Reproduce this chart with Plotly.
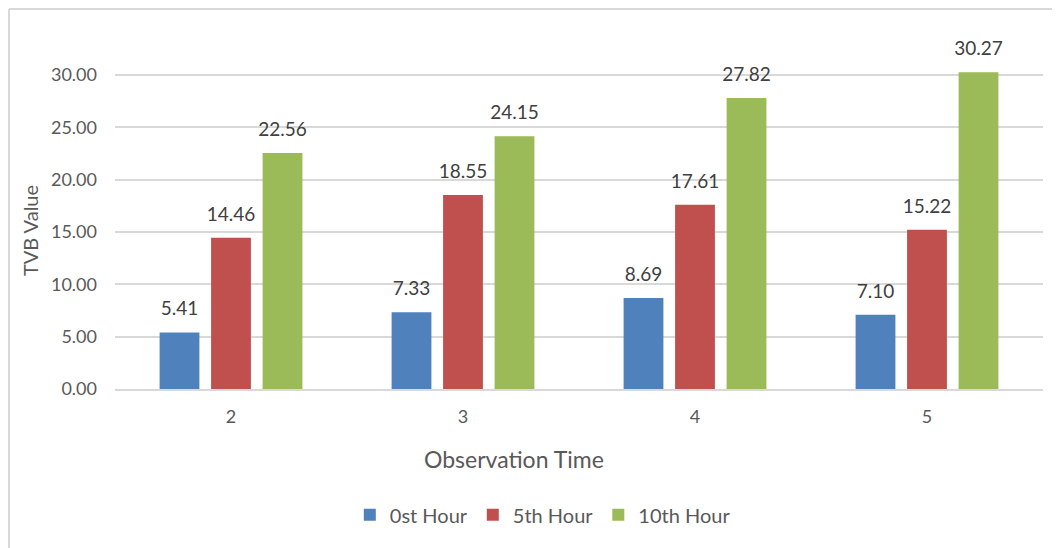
import plotly.graph_objects as go

categories = ["2", "3", "4", "5"]
series_names = ["0st Hour", "5th Hour", "10th Hour"]
hour0 = [5.41, 7.33, 8.69, 7.10]
hour5 = [14.46, 18.55, 17.61, 15.22]
hour10 = [22.56, 24.15, 27.82, 30.27]
colors = ["#4F81BD", "#C0504D", "#9BBB59"]
tick_vals = [0, 5, 10, 15, 20, 25, 30]
x_title = "Observation Time"
y_title = "TVB Value"

FONT = "Lato, 'Open Sans', sans-serif"
GREY = "#595959"
BARGAP = 0.334

fig = go.Figure()
for name, vals, col in zip(series_names, [hour0, hour5, hour10], colors):
    fig.add_trace(go.Bar(
        x=categories, y=vals, name=name, marker_color=col,
        marker_line_width=0, offsetgroup=name, hoverinfo="x+y+name",
    ))
for name, vals in zip(series_names, [hour0, hour5, hour10]):
    fig.add_trace(go.Scatter(
        x=categories, y=vals, mode="markers+text", offsetgroup=name,
        text=[f"{v:.2f}" for v in vals], textposition="top center",
        textfont=dict(size=19, color="#404040", family=FONT),
        marker=dict(size=18, opacity=0), showlegend=False, hoverinfo="skip",
        cliponaxis=False,
    ))

W, H = 1052, 540
L, R, T, B = 107, 17, 64, 159
pw = W - L - R
ph = H - T - B

fig.update_layout(
    width=W, height=H,
    margin=dict(l=L, r=R, t=T, b=B, autoexpand=False),
    plot_bgcolor="white", paper_bgcolor="white",
    barmode="group", bargap=BARGAP, bargroupgap=0.227,
    scattermode="group", scattergap=BARGAP,
    font=dict(family=FONT, color=GREY, size=14),
    xaxis=dict(
        type="category", showgrid=False, showline=True, linecolor="#d9d9d9",
        linewidth=2, ticks="", tickfont=dict(size=18, color=GREY),
        ticklabelstandoff=10,
    ),
    yaxis=dict(
        range=[0, 30.3], tickvals=tick_vals, tickformat=".2f",
        showgrid=True, gridcolor="#d9d9d9", gridwidth=1.5, zeroline=False,
        showline=False, ticks="", tickfont=dict(size=18, color=GREY),
        ticklabelstandoff=17,
        title=dict(text=y_title, font=dict(size=20, color=GREY), standoff=6),
    ),
    legend=dict(
        orientation="h", x=0.461, xanchor="center", y=-0.397, yanchor="middle",
        font=dict(size=20, color=GREY), traceorder="normal",
    ),
)

# x-axis title (centred on the chart area, as in the reference)
fig.add_annotation(
    text=x_title, xref="paper", yref="paper", x=0.43, y=-0.221,
    xanchor="center", yanchor="middle", showarrow=False,
    font=dict(size=23, color=GREY, family=FONT),
)

# chart border (top and left edges visible in the reference)
bx = (1 - L) / pw
by = (H - B - 1) / ph
fig.add_shape(type="line", xref="paper", yref="paper", x0=bx, x1=(W - L) / pw,
              y0=by, y1=by, line=dict(color="#d9d9d9", width=2))
fig.add_shape(type="line", xref="paper", yref="paper", x0=bx, x1=bx,
              y0=by, y1=-B / ph, line=dict(color="#d9d9d9", width=2))

fig.write_html("out.html")
